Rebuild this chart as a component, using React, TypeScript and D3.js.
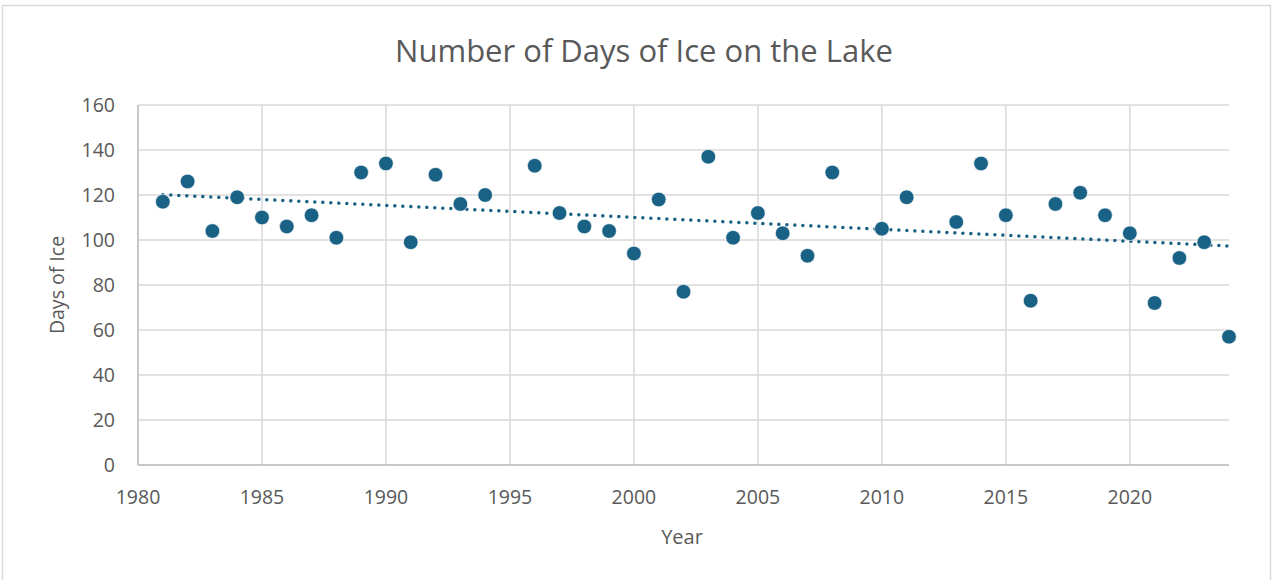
import { useMemo } from "react";
import * as d3 from "d3";

const years = [
  1981, 1982, 1983, 1984, 1985, 1986, 1987, 1988, 1989, 1990, 1991, 1992, 1993, 1994,
  1996, 1997, 1998, 1999, 2000, 2001, 2002, 2003, 2004, 2005, 2006, 2007, 2008, 2010,
  2011, 2013, 2014, 2015, 2016, 2017, 2018, 2019, 2020, 2021, 2022, 2023, 2024,
];
const daysOfIce = [
  117, 126, 104, 119, 110, 106, 111, 101, 130, 134, 99, 129, 116, 120,
  133, 112, 106, 104, 94, 118, 77, 137, 101, 112, 103, 93, 130, 105,
  119, 108, 134, 111, 73, 116, 121, 111, 103, 72, 92, 99, 57,
];
const xTicks = [1980, 1985, 1990, 1995, 2000, 2005, 2010, 2015, 2020];
const yTicks = [0, 20, 40, 60, 80, 100, 120, 140, 160];

const width = 1274;
const height = 580;
const margin = { left: 138, right: 45, top: 105, bottom: 115 };
const textColor = "#595959";
const gridColor = "#d9d9d9";
const pointColor = "#1a6285";
const font = "'Open Sans', sans-serif";

export default function App() {
  const x = d3.scaleLinear().domain([1980, 2024]).range([margin.left, width - margin.right]);
  const y = d3.scaleLinear().domain([0, 160]).range([height - margin.bottom, margin.top]);

  // least squares trendline, like Excel's linear trend
  const trend = useMemo(() => {
    const mx = d3.mean(years)!;
    const my = d3.mean(daysOfIce)!;
    const sxy = d3.sum(years, (v, i) => (v - mx) * (daysOfIce[i] - my));
    const sxx = d3.sum(years, (v) => (v - mx) ** 2);
    const slope = sxy / sxx;
    const at = (t: number) => my + slope * (t - mx);
    const x0 = years[0];
    const x1 = years[years.length - 1];
    return d3.line<number>().x((t) => x(t)).y((t) => y(at(t)))([x0, x1]);
  }, []);

  return (
    <svg
      width={width}
      height={height}
      style={{ position: "absolute", left: 0, top: 0, background: "#fff" }}
      fontFamily={font}
    >
      <rect x={2.5} y={5.5} width={1268} height={590} fill="#fff" stroke={gridColor} strokeWidth={1.5} />
      <text x={644} y={62} textAnchor="middle" fontSize={31} fill={textColor}>
        Number of Days of Ice on the Lake
      </text>

      {yTicks.map((t) => (
        <g key={"y" + t}>
          <line x1={x(1980)} x2={x(2024)} y1={y(t)} y2={y(t)} stroke={gridColor} strokeWidth={1.5} />
          <text x={115} y={y(t)} dy="0.36em" textAnchor="end" fontSize={19.5} fill={textColor}>
            {t}
          </text>
        </g>
      ))}
      {xTicks.map((t) => (
        <g key={"x" + t}>
          <line x1={x(t)} x2={x(t)} y1={y(0)} y2={y(160)} stroke={gridColor} strokeWidth={1.5} />
          <text x={x(t)} y={504} textAnchor="middle" fontSize={19.5} fill={textColor}>
            {t}
          </text>
        </g>
      ))}
      <line x1={x(1980)} x2={x(1980)} y1={y(0)} y2={y(160)} stroke="#bfbfbf" strokeWidth={1.5} />
      <line x1={x(1980)} x2={x(2024)} y1={y(0)} y2={y(0)} stroke="#bfbfbf" strokeWidth={1.5} />

      <path
        d={trend ?? ""}
        fill="none"
        stroke={pointColor}
        strokeWidth={3.5}
        strokeLinecap="round"
        strokeDasharray="0.01 8"
      />

      {years.map((yr, i) => (
        <circle key={yr} cx={x(yr)} cy={y(daysOfIce[i])} r={7.3} fill={pointColor} stroke="#fff" strokeWidth={0.6} />
      ))}

      <text
        transform={`translate(64, ${y(80)}) rotate(-90)`}
        textAnchor="middle"
        fontSize={19.5}
        fill={textColor}
      >
        Days of Ice
      </text>
      <text x={682} y={544} textAnchor="middle" fontSize={20} fill={textColor}>
        Year
      </text>
    </svg>
  );
}
